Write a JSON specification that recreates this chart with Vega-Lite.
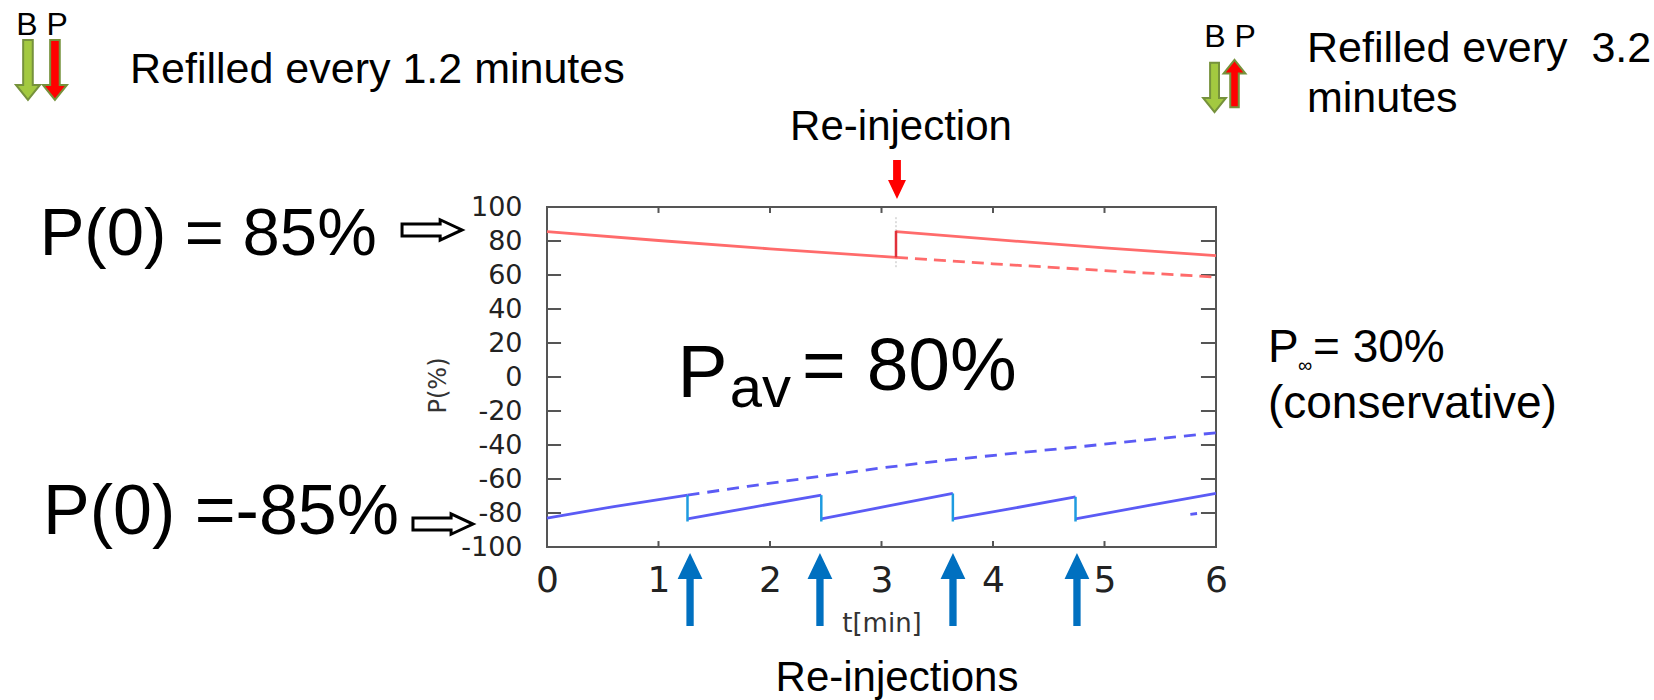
{
  "$schema": "https://vega.github.io/schema/vega-lite/v6.json",
  "width": 669,
  "height": 340,
  "autosize": {"type": "none"},
  "padding": {"left": 547, "top": 207, "right": 438, "bottom": 153},
  "background": "white",
  "config": {
    "view": {"stroke": "#555555", "strokeWidth": 2},
    "text": {"font": "Liberation Sans", "color": "#000000"}
  },
  "datasets": {
    "ticks": [
      {"t": 0, "t2": 0.126, "p": -80, "p2": -80},
      {"t": 0, "t2": 0.126, "p": -60, "p2": -60},
      {"t": 0, "t2": 0.126, "p": -40, "p2": -40},
      {"t": 0, "t2": 0.126, "p": -20, "p2": -20},
      {"t": 0, "t2": 0.126, "p": 0, "p2": 0},
      {"t": 0, "t2": 0.126, "p": 20, "p2": 20},
      {"t": 0, "t2": 0.126, "p": 40, "p2": 40},
      {"t": 0, "t2": 0.126, "p": 60, "p2": 60},
      {"t": 0, "t2": 0.126, "p": 80, "p2": 80},
      {"t": 5.865, "t2": 6, "p": -80, "p2": -80},
      {"t": 5.865, "t2": 6, "p": -60, "p2": -60},
      {"t": 5.865, "t2": 6, "p": -40, "p2": -40},
      {"t": 5.865, "t2": 6, "p": -20, "p2": -20},
      {"t": 5.865, "t2": 6, "p": 0, "p2": 0},
      {"t": 5.865, "t2": 6, "p": 20, "p2": 20},
      {"t": 5.865, "t2": 6, "p": 40, "p2": 40},
      {"t": 5.865, "t2": 6, "p": 60, "p2": 60},
      {"t": 5.865, "t2": 6, "p": 80, "p2": 80},
      {"t": 1, "t2": 1, "p": 100, "p2": 96.5},
      {"t": 2, "t2": 2, "p": 100, "p2": 96.5},
      {"t": 3, "t2": 3, "p": 100, "p2": 96.5},
      {"t": 4, "t2": 4, "p": 100, "p2": 96.5},
      {"t": 5, "t2": 5, "p": 100, "p2": 96.5},
      {"t": 1, "t2": 1, "p": -100, "p2": -96.5},
      {"t": 2, "t2": 2, "p": -100, "p2": -96.5},
      {"t": 3, "t2": 3, "p": -100, "p2": -96.5},
      {"t": 4, "t2": 4, "p": -100, "p2": -96.5},
      {"t": 5, "t2": 5, "p": -100, "p2": -96.5}
    ],
    "guide": [
      {"t": 3.13, "t2": 3.13, "p": 94, "p2": 64}
    ],
    "lines": [
      {"s": "r1", "t": 0, "p": 85.5},
      {"s": "r1", "t": 1, "p": 80.3},
      {"s": "r1", "t": 2, "p": 75.4},
      {"s": "r1", "t": 3.13, "p": 70.4},
      {"s": "r2", "t": 3.13, "p": 85.5},
      {"s": "r2", "t": 4, "p": 80.9},
      {"s": "r2", "t": 5, "p": 76.0},
      {"s": "r2", "t": 6, "p": 71.4},
      {"s": "rd", "t": 3.13, "p": 70.4},
      {"s": "rd", "t": 4, "p": 66.6},
      {"s": "rd", "t": 5, "p": 62.6},
      {"s": "rd", "t": 6, "p": 58.8},
      {"s": "b1", "t": 0, "p": -83},
      {"s": "b1", "t": 0.6, "p": -76.2},
      {"s": "b1", "t": 1.26, "p": -69.5},
      {"s": "b2", "t": 1.26, "p": -83.5},
      {"s": "b2", "t": 1.85, "p": -76.5},
      {"s": "b2", "t": 2.46, "p": -69.5},
      {"s": "b3", "t": 2.46, "p": -83.5},
      {"s": "b3", "t": 3.05, "p": -76},
      {"s": "b3", "t": 3.64, "p": -68.5},
      {"s": "b4", "t": 3.64, "p": -83.5},
      {"s": "b4", "t": 4.2, "p": -77},
      {"s": "b4", "t": 4.74, "p": -70.5},
      {"s": "b5", "t": 4.74, "p": -83.5},
      {"s": "b5", "t": 5.4, "p": -75.5},
      {"s": "b5", "t": 6, "p": -68.5},
      {"s": "bx", "t": 5.77, "p": -80.8},
      {"s": "bx", "t": 5.83, "p": -80.3},
      {"s": "bd", "t": 1.26, "p": -69.5},
      {"s": "bd", "t": 1.8, "p": -64.3},
      {"s": "bd", "t": 2.43, "p": -58.6},
      {"s": "bd", "t": 3, "p": -53.5},
      {"s": "bd", "t": 3.6, "p": -48.8},
      {"s": "bd", "t": 4.2, "p": -44.8},
      {"s": "bd", "t": 4.78, "p": -41},
      {"s": "bd", "t": 5.4, "p": -36.8},
      {"s": "bd", "t": 6, "p": -32.8}
    ],
    "jumps": [
      {"s": "red", "t": 3.13, "t2": 3.13, "p": 70.4, "p2": 86},
      {"s": "blue", "t": 1.26, "t2": 1.26, "p": -69.5, "p2": -85},
      {"s": "blue", "t": 2.46, "t2": 2.46, "p": -69.5, "p2": -85},
      {"s": "blue", "t": 3.64, "t2": 3.64, "p": -68.5, "p2": -85},
      {"s": "blue", "t": 4.74, "t2": 4.74, "p": -70.5, "p2": -85}
    ],
    "arrows": [
      {"kind": "blueUp", "t": 1.283, "p": -125},
      {"kind": "blueUp", "t": 2.448, "p": -125},
      {"kind": "blueUp", "t": 3.641, "p": -125},
      {"kind": "blueUp", "t": 4.753, "p": -125},
      {"kind": "redPointer", "t": 3.139, "p": 116.2},
      {"kind": "greenDownL", "t": -4.655, "p": 180.6},
      {"kind": "redDownL", "t": -4.413, "p": 180.6},
      {"kind": "greenDown", "t": 5.987, "p": 170.3},
      {"kind": "redUp", "t": 6.166, "p": 172.6},
      {"kind": "open", "t": -1.031, "p": 86.5},
      {"kind": "open", "t": -0.933, "p": -86.5}
    ],
    "texts": [
      {"g": "bp", "txt": "B P", "t": -4.529, "p": 201.2},
      {"g": "bp", "txt": "B P", "t": 6.126, "p": 194.1},
      {"g": "refill", "txt": "Refilled every 1.2 minutes", "t": -3.74, "p": 173},
      {"g": "refill", "txt": "Refilled every\u00a0 3.2", "t": 6.816, "p": 185.3},
      {"g": "refill", "txt": "minutes", "t": 6.816, "p": 155.9},
      {"g": "center", "txt": "Re-injection", "t": 3.175, "p": 139.5},
      {"g": "center", "txt": "Re-injections", "t": 3.139, "p": -184.5},
      {"g": "big", "txt": "P(0) = 85%", "t": -4.55, "p": 71.8},
      {"g": "big2", "txt": "P(0) =-85%", "t": -4.52, "p": -92.5},
      {"g": "pav", "txt": "P", "t": 1.17, "p": -11.8},
      {"g": "pav", "txt": "= 80%", "t": 2.287, "p": -7.6},
      {"g": "sub", "txt": "av", "t": 1.64, "p": -17.7},
      {"g": "pinf", "txt": "P", "t": 6.466, "p": 8.82},
      {"g": "pinf", "txt": "= 30%", "t": 6.87, "p": 8.82},
      {"g": "pinf", "txt": "(conservative)", "t": 6.466, "p": -24.1},
      {"g": "inf", "txt": "∞", "t": 6.735, "p": 2.94}
    ]
  },
  "encoding": {
    "x": {
      "field": "t",
      "type": "quantitative",
      "scale": {"domain": [0, 6], "nice": false, "zero": false},
      "axis": {
        "values": [0, 1, 2, 3, 4, 5, 6],
        "format": "d",
        "labelFont": "DejaVu Sans",
        "labelFontSize": 36,
        "labelColor": "#222222",
        "labelPadding": 16,
        "labelFlush": false,
        "labelOverlap": false,
        "ticks": false,
        "domain": false,
        "grid": false,
        "title": "t[min]",
        "titleFont": "DejaVu Sans",
        "titleFontSize": 26,
        "titleFontWeight": "normal",
        "titleColor": "#333333",
        "titleX": 334.5,
        "titleY": 84,
        "titleAlign": "center",
        "titleBaseline": "alphabetic"
      }
    },
    "y": {
      "field": "p",
      "type": "quantitative",
      "scale": {"domain": [-100, 100], "nice": false, "zero": false},
      "axis": {
        "values": [-100, -80, -60, -40, -20, 0, 20, 40, 60, 80, 100],
        "labelExpr": "datum.value < 0 ? '-' + abs(datum.value) : '' + datum.value",
        "labelFont": "DejaVu Sans",
        "labelFontSize": 27,
        "labelColor": "#222222",
        "labelPadding": 25,
        "labelFlush": false,
        "labelOverlap": false,
        "ticks": false,
        "domain": false,
        "grid": false,
        "title": "P(%)",
        "titleFont": "DejaVu Sans",
        "titleFontSize": 24,
        "titleFontWeight": "normal",
        "titleColor": "#333333",
        "titleX": -109,
        "titleY": 178,
        "titleAngle": -90,
        "titleAlign": "center",
        "titleBaseline": "middle"
      }
    }
  },
  "layer": [
    {
      "data": {"name": "ticks"},
      "mark": {"type": "rule", "color": "#555555", "strokeWidth": 2},
      "encoding": {"x2": {"field": "t2"}, "y2": {"field": "p2"}}
    },
    {
      "data": {"name": "guide"},
      "mark": {"type": "rule", "color": "#BBBBBB", "strokeWidth": 1, "strokeDash": [2, 2]},
      "encoding": {"x2": {"field": "t2"}, "y2": {"field": "p2"}}
    },
    {
      "data": {"name": "lines"},
      "transform": [{"filter": "datum.s === 'r1' || datum.s === 'r2'"}],
      "mark": {"type": "line", "color": "#FF6B6B", "strokeWidth": 2.8},
      "encoding": {"detail": {"field": "s"}}
    },
    {
      "data": {"name": "lines"},
      "transform": [{"filter": "datum.s === 'rd'"}],
      "mark": {"type": "line", "color": "#FF6B6B", "strokeWidth": 2.8, "strokeDash": [12, 7]},
      "encoding": {"detail": {"field": "s"}}
    },
    {
      "data": {"name": "lines"},
      "transform": [{"filter": "datum.s !== 'bd' && indexof(datum.s, 'b') === 0"}],
      "mark": {"type": "line", "color": "#5B5BF5", "strokeWidth": 2.8},
      "encoding": {"detail": {"field": "s"}}
    },
    {
      "data": {"name": "lines"},
      "transform": [{"filter": "datum.s === 'bd'"}],
      "mark": {"type": "line", "color": "#5B5BF5", "strokeWidth": 2.8, "strokeDash": [12, 8]},
      "encoding": {"detail": {"field": "s"}}
    },
    {
      "data": {"name": "jumps"},
      "transform": [{"filter": "datum.s === 'red'"}],
      "mark": {"type": "rule", "color": "#E0303A", "strokeWidth": 2.5},
      "encoding": {"x2": {"field": "t2"}, "y2": {"field": "p2"}}
    },
    {
      "data": {"name": "jumps"},
      "transform": [{"filter": "datum.s === 'blue'"}],
      "mark": {"type": "rule", "color": "#1E9BE0", "strokeWidth": 2.5},
      "encoding": {"x2": {"field": "t2"}, "y2": {"field": "p2"}}
    },
    {
      "data": {"name": "arrows"},
      "transform": [{"filter": "datum.kind === 'blueUp'"}],
      "mark": {"type": "point", "shape": "M0,-1 L0.34,-0.29 L0.1,-0.29 L0.1,1 L-0.1,1 L-0.1,-0.29 L-0.34,-0.29 Z", "size": 5329, "filled": true, "color": "#0070C0", "opacity": 1, "strokeWidth": 0}
    },
    {
      "data": {"name": "arrows"},
      "transform": [{"filter": "datum.kind === 'redPointer'"}],
      "mark": {"type": "point", "shape": "M0,1 L0.46,0.03 L0.2,0.03 L0.2,-1 L-0.2,-1 L-0.2,0.03 L-0.46,0.03 Z", "size": 1521, "filled": true, "color": "#FF0000", "opacity": 1, "strokeWidth": 0}
    },
    {
      "data": {"name": "arrows"},
      "transform": [{"filter": "datum.kind === 'greenDownL'"}],
      "mark": {"type": "point", "shape": "M0,1 L0.4,0.5 L0.16,0.5 L0.16,-1 L-0.16,-1 L-0.16,0.5 L-0.4,0.5 Z", "size": 3600, "filled": true, "fill": "#A3C940", "stroke": "#76923C", "strokeWidth": 2, "opacity": 1}
    },
    {
      "data": {"name": "arrows"},
      "transform": [{"filter": "datum.kind === 'redDownL'"}],
      "mark": {"type": "point", "shape": "M0,1 L0.4,0.5 L0.16,0.5 L0.16,-1 L-0.16,-1 L-0.16,0.5 L-0.4,0.5 Z", "size": 3600, "filled": true, "fill": "#FF0000", "stroke": "#76923C", "strokeWidth": 2, "opacity": 1}
    },
    {
      "data": {"name": "arrows"},
      "transform": [{"filter": "datum.kind === 'greenDown'"}],
      "mark": {"type": "point", "shape": "M0,1 L0.46,0.42 L0.18,0.42 L0.18,-1 L-0.18,-1 L-0.18,0.42 L-0.46,0.42 Z", "size": 2450, "filled": true, "fill": "#A3C940", "stroke": "#76923C", "strokeWidth": 2, "opacity": 1}
    },
    {
      "data": {"name": "arrows"},
      "transform": [{"filter": "datum.kind === 'redUp'"}],
      "mark": {"type": "point", "shape": "M0,-1 L0.46,-0.42 L0.18,-0.42 L0.18,1 L-0.18,1 L-0.18,-0.42 L-0.46,-0.42 Z", "size": 2250, "filled": true, "fill": "#FF0000", "stroke": "#76923C", "strokeWidth": 2, "opacity": 1}
    },
    {
      "data": {"name": "arrows"},
      "transform": [{"filter": "datum.kind === 'open'"}],
      "mark": {"type": "point", "shape": "M-1,-0.2 L0.27,-0.2 L0.27,-0.34 L1,0 L0.27,0.34 L0.27,0.2 L-1,0.2 Z", "size": 3600, "filled": true, "fill": "#FFFFFF", "stroke": "#000000", "strokeWidth": 3, "opacity": 1}
    },
    {
      "data": {"name": "texts"},
      "transform": [{"filter": "datum.g === 'bp'"}],
      "mark": {"type": "text", "fontSize": 32, "align": "center", "baseline": "alphabetic"},
      "encoding": {"text": {"field": "txt"}}
    },
    {
      "data": {"name": "texts"},
      "transform": [{"filter": "datum.g === 'refill'"}],
      "mark": {"type": "text", "fontSize": 43, "align": "left", "baseline": "alphabetic"},
      "encoding": {"text": {"field": "txt"}}
    },
    {
      "data": {"name": "texts"},
      "transform": [{"filter": "datum.g === 'center'"}],
      "mark": {"type": "text", "fontSize": 42, "align": "center", "baseline": "alphabetic"},
      "encoding": {"text": {"field": "txt"}}
    },
    {
      "data": {"name": "texts"},
      "transform": [{"filter": "datum.g === 'big'"}],
      "mark": {"type": "text", "fontSize": 67, "align": "left", "baseline": "alphabetic"},
      "encoding": {"text": {"field": "txt"}}
    },
    {
      "data": {"name": "texts"},
      "transform": [{"filter": "datum.g === 'big2'"}],
      "mark": {"type": "text", "fontSize": 70, "align": "left", "baseline": "alphabetic"},
      "encoding": {"text": {"field": "txt"}}
    },
    {
      "data": {"name": "texts"},
      "transform": [{"filter": "datum.g === 'pav'"}],
      "mark": {"type": "text", "fontSize": 75, "align": "left", "baseline": "alphabetic"},
      "encoding": {"text": {"field": "txt"}}
    },
    {
      "data": {"name": "texts"},
      "transform": [{"filter": "datum.g === 'sub'"}],
      "mark": {"type": "text", "fontSize": 58, "align": "left", "baseline": "alphabetic"},
      "encoding": {"text": {"field": "txt"}}
    },
    {
      "data": {"name": "texts"},
      "transform": [{"filter": "datum.g === 'pinf'"}],
      "mark": {"type": "text", "fontSize": 46, "align": "left", "baseline": "alphabetic"},
      "encoding": {"text": {"field": "txt"}}
    },
    {
      "data": {"name": "texts"},
      "transform": [{"filter": "datum.g === 'inf'"}],
      "mark": {"type": "text", "fontSize": 20, "align": "left", "baseline": "alphabetic"},
      "encoding": {"text": {"field": "txt"}}
    }
  ]
}
